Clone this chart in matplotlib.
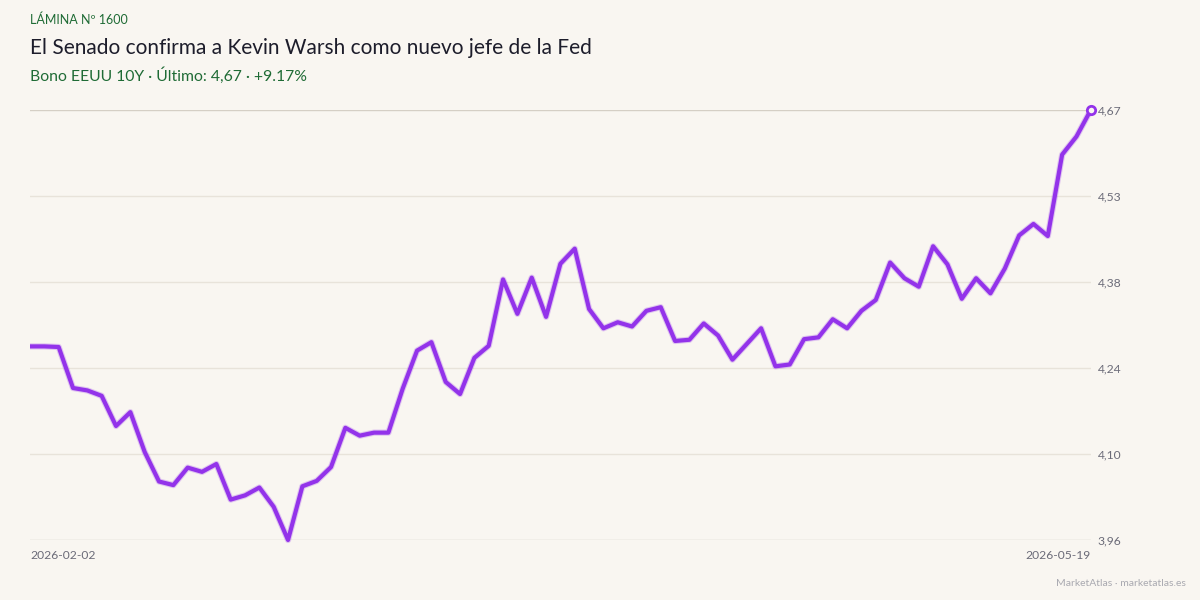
import numpy as np
import pandas as pd
import matplotlib
matplotlib.use("Agg")
import matplotlib.pyplot as plt

# --- datos (rendimiento bono EEUU 10Y, sesiones hábiles) ---
fecha_inicio = "2026-02-02"
fecha_fin = "2026-05-19"
rendimientos = [
    4.278, 4.278, 4.277, 4.209, 4.205, 4.196, 4.146, 4.169, 4.103, 4.054,
    4.048, 4.077, 4.070, 4.083, 4.024, 4.031, 4.044, 4.012, 3.957, 4.046,
    4.055, 4.078, 4.143, 4.130, 4.135, 4.135, 4.208, 4.271, 4.285, 4.219,
    4.199, 4.259, 4.279, 4.389, 4.332, 4.392, 4.327, 4.415, 4.440, 4.340,
    4.308, 4.318, 4.311, 4.337, 4.343, 4.287, 4.289, 4.316, 4.296, 4.256,
    4.282, 4.308, 4.245, 4.248, 4.290, 4.293, 4.323, 4.308, 4.337, 4.355,
    4.417, 4.391, 4.377, 4.444, 4.414, 4.357, 4.391, 4.366, 4.407, 4.462,
    4.481, 4.461, 4.596, 4.626, 4.670,
]

titulo = "El Senado confirma a Kevin Warsh como nuevo jefe de la Fed"
lamina = "LÁMINA Nº 1600"
subtitulo = "Bono EEUU 10Y · Último: 4,67 · +9.17%"
pie = "MarketAtlas · marketatlas.es"

fondo = "#f9f6f1"
morado = "#9333ea"
verde = "#1f6b35"
gris = "#6b6b78"

plt.rcParams["font.family"] = ["Lato", "DejaVu Sans"]

y = np.array(rendimientos)
x = np.arange(len(y))
ymin, ymax = y.min(), y.max()
ticks = np.linspace(ymin, ymax, 6)

fig = plt.figure(figsize=(12, 6), dpi=100, facecolor=fondo)
ax = fig.add_axes([0.025, 0.1, 0.884, 0.7167])
ax.set_facecolor(fondo)

# rejilla horizontal; la de abajo y la de arriba algo más marcadas
for i, t in enumerate(ticks):
    c = "#d5cfc5" if i in (0, len(ticks) - 1) else "#e8e3da"
    ax.axhline(t, color=c, lw=1, zorder=1)

ax.plot(x, y, color=morado, lw=4.5, alpha=0.25, solid_capstyle="butt",
        solid_joinstyle="round", zorder=2, clip_on=False)
ax.plot(x, y, color=morado, lw=3, solid_capstyle="butt",
        solid_joinstyle="round", zorder=3, clip_on=False)
ax.plot(x[-1], y[-1], "o", ms=6, mfc=fondo, mec=morado, mew=2, zorder=4,
        clip_on=False)

ax.set_xlim(0, len(y) - 1)
ax.set_ylim(ymin, ymax)
ax.set_yticks(ticks)
ax.set_yticklabels([f"{t:.2f}".replace(".", ",") for t in ticks])
ax.yaxis.tick_right()
ax.tick_params(axis="y", length=0, pad=5, labelsize=8.7, labelcolor=gris)
ax.set_xticks([])
for s in ax.spines.values():
    s.set_visible(False)

ax.text(0, -0.035, fecha_inicio, transform=ax.transAxes, ha="left", va="center",
        fontsize=8.7, color=gris)
ax.text(1, -0.035, fecha_fin, transform=ax.transAxes, ha="right", va="center",
        fontsize=8.7, color=gris)

fig.text(0.025, 1 - 20 / 600, lamina, ha="left", va="center", fontsize=9, color=verde)
fig.text(0.025, 1 - 48 / 600, titulo, ha="left", va="center", fontsize=15, color="#1d1d2b")
fig.text(0.025, 1 - 76 / 600, subtitulo, ha="left", va="center", fontsize=11.3, color=verde)
fig.text(1 - 14 / 1200, 1 - 583 / 600, pie, ha="right", va="center", fontsize=7.5, color="#a9a9b0")

fig.savefig("out.png", dpi=100, facecolor=fondo)
